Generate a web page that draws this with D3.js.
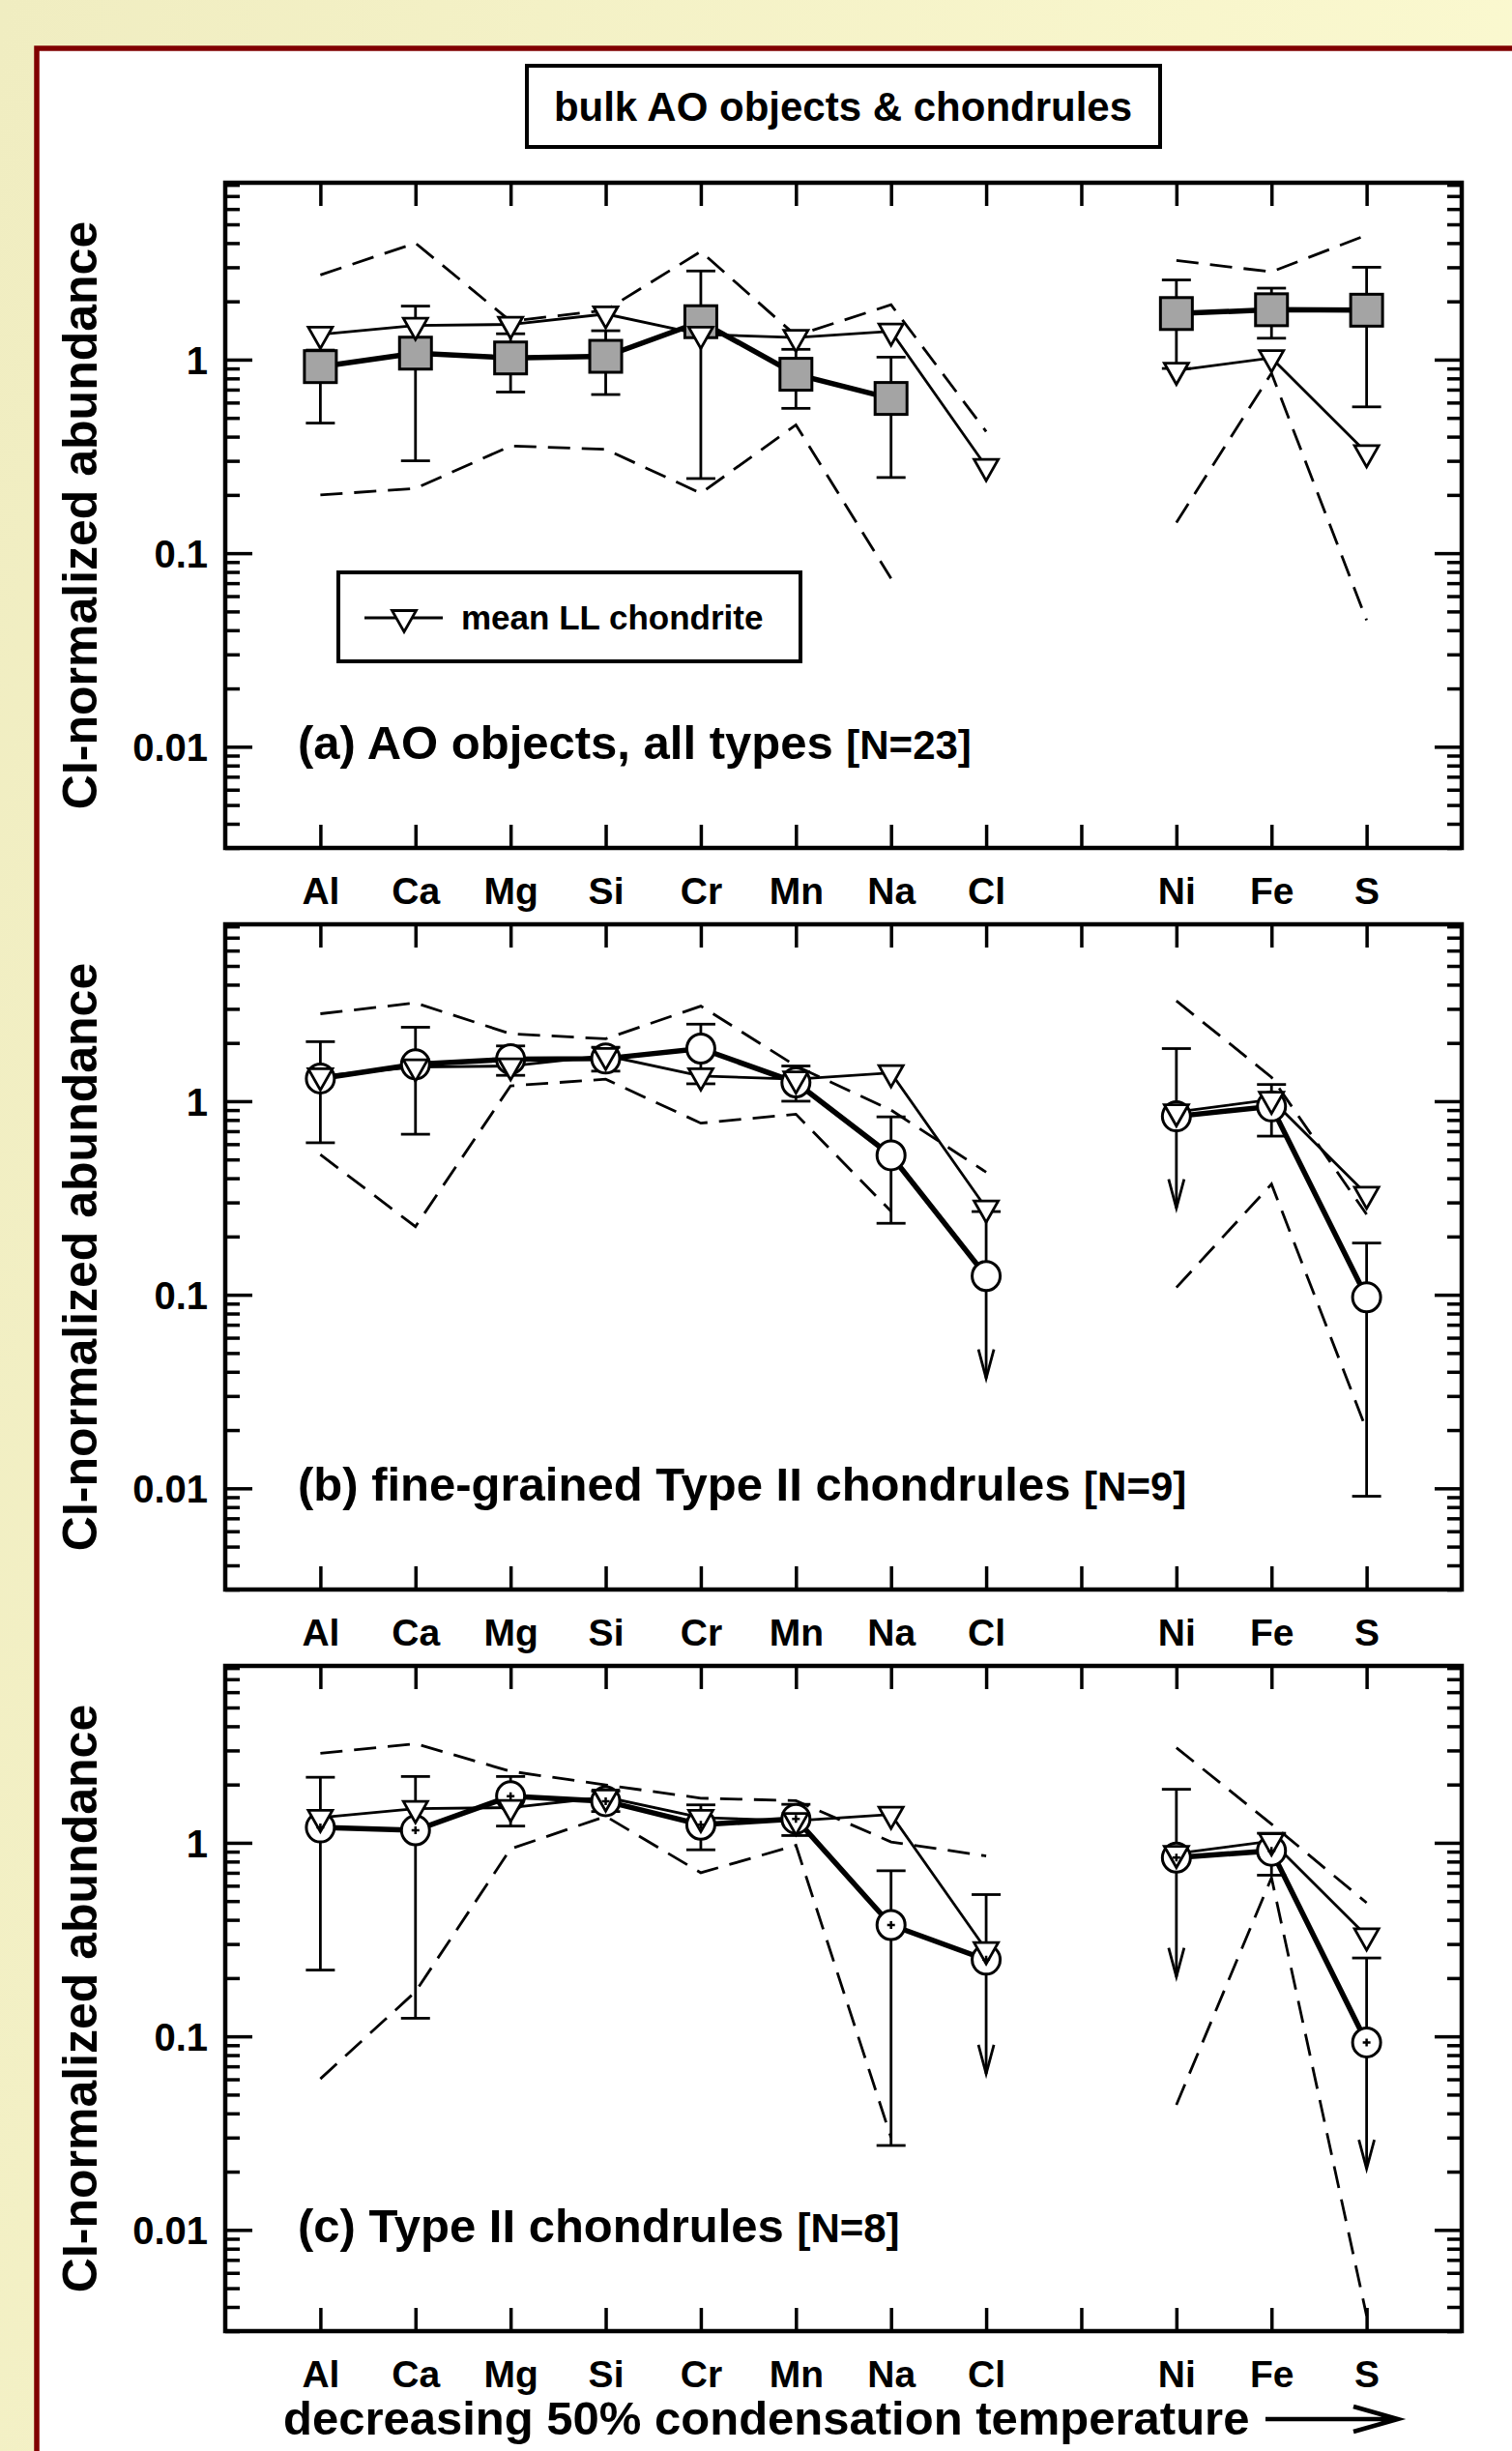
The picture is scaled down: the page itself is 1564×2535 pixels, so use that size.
<!DOCTYPE html>
<html>
<head>
<meta charset="utf-8">
<script src="https://cdn.jsdelivr.net/npm/d3@7"></script>
<style>
  body { margin: 0; background: #f5f2c8; }
  svg text { font-family: "Liberation Sans", Arial, Helvetica, sans-serif; font-weight: bold; fill: #000; }
</style>
</head>
<body>
<svg id="chart"></svg>
<script>
// elements in order of decreasing condensation temperature (blank slot splits the groups)
const elements = ["Al", "Ca", "Mg", "Si", "Cr", "Mn", "Na", "Cl", "", "Ni", "Fe", "S"];

// mean LL chondrite, same reference curve in every panel
const llMean = [1.35, 1.5, 1.52, 1.72, 1.35, 1.3, 1.4, 0.28, null, 0.88, 1.02, 0.33];

// (a) AO objects, all types
const aoMean = [0.92, 1.08, 1.02, 1.04, 1.57, 0.84, 0.63, null, null, 1.73, 1.81, 1.80];
const aoHi   = [1.12, 1.89, 1.36, 1.41, 2.87, 1.13, 1.03, null, null, 2.58, 2.34, 3.0];
const aoLo   = [0.47, 0.30, 0.68, 0.66, 0.243, 0.56, 0.246, null, null, 0.90, 1.29, 0.57];
const aoMax  = [2.74, 4.0, 1.58, 1.80, 3.62, 1.33, 1.92, 0.425, null, 3.25, 2.84, 4.4];
const aoMin  = [0.20, 0.216, 0.358, 0.344, 0.204, 0.46, 0.074, null, null, 0.144, 0.85, 0.045];
const aoLimits = [];

// (b) fine-grained Type II chondrules
const fgMean = [1.31, 1.55, 1.65, 1.66, 1.87, 1.25, 0.525, 0.125, null, 0.835, 0.94, 0.097];
const fgHi   = [2.03, 2.41, 1.93, 1.9, 2.5, 1.52, 0.83, 0.269, null, 1.87, 1.22, 0.185];
const fgLo   = [0.61, 0.675, 1.36, 1.43, 1.23, 1.0, 0.234, 0.037, null, 0.28, 0.66, 0.0091];
const fgMax  = [2.83, 3.22, 2.23, 2.1, 3.1, 1.52, 0.9, 0.43, null, 3.3, 1.33, 0.26];
const fgMin  = [0.53, 0.225, 1.2, 1.3, 0.77, 0.857, 0.27, null, null, 0.109, 0.373, 0.02];
const fgLimits = [7, 9];

// (c) Type II chondrules
const t2Mean = [1.20, 1.16, 1.74, 1.64, 1.24, 1.33, 0.376, 0.249, null, 0.838, 0.91, 0.093];
const t2Hi   = [2.18, 2.2, 2.2, 1.85, 1.57, 1.58, 0.717, 0.54, null, 1.89, 1.12, 0.254];
const t2Lo   = [0.22, 0.124, 1.22, 1.45, 0.92, 1.09, 0.0273, 0.064, null, 0.203, 0.68, 0.0207];
const t2Max  = [2.9, 3.25, 2.34, 1.99, 1.7, 1.65, 1.01, 0.855, null, 3.1, 1.25, 0.49];
const t2Min  = [0.0603, 0.17, 0.93, 1.37, 0.70, 0.97, 0.030, null, null, 0.0443, 0.66, 0.0036];
const t2Limits = [7, 9, 11];

const yMajor = [0.01, 0.1, 1];
const yMajorLabels = ["0.01", "0.1", "1"];

const W = 1564, H = 2535;

class AbundancePanel {

    constructor(_config) {
        this.config = {
            parentElement: _config.parentElement,
            top: _config.top,
            height: 688,
            left: 233,
            right: 1512,
            label: _config.label,
            labelN: _config.labelN,
            marker: _config.marker,
            legend: _config.legend || false
        };
        this.mean = _config.mean;
        this.hi = _config.hi;
        this.lo = _config.lo;
        this.max = _config.max;
        this.min = _config.min;
        this.limits = _config.limits;

        this.initVis();
    }

    initVis() {
        let vis = this;
        let c = vis.config;

        vis.bottom = c.top + c.height;

        vis.chart = c.parentElement.append("g");

        // scales
        vis.xScale = d3.scalePoint()
            .domain(d3.range(elements.length))
            .range([c.left, c.right])
            .padding(1);

        vis.yScale = d3.scaleLog()
            .domain([0.003, 8.2])
            .range([vis.bottom, c.top]);

        // minor ticks 2..9 of every decade inside the domain
        vis.yMinor = [];
        [0.001, 0.01, 0.1, 1].forEach(dec => {
            for (let k = 2; k <= 9; k++) {
                let v = dec * k;
                if (v >= 0.003 && v <= 8.2) vis.yMinor.push(v);
            }
        });

        vis.line = d3.line()
            .defined(d => d.v != null)
            .x(d => vis.xScale(d.i))
            .y(d => vis.yScale(d.v));

        vis.updateVis();
    }

    updateVis() {
        let vis = this;
        let pack = arr => arr.map((v, i) => ({ i: i, v: v }));

        vis.meanData = pack(vis.mean);
        vis.llData = pack(llMean);
        vis.maxData = pack(vis.max);
        vis.minData = pack(vis.min);
        vis.errData = vis.mean.map((v, i) => ({ i: i, hi: vis.hi[i], lo: vis.lo[i], limit: vis.limits.includes(i) }))
            .filter(d => d.hi != null);

        vis.renderVis();
    }

    renderVis() {
        let vis = this;
        let c = vis.config;
        let x = vis.xScale, y = vis.yScale;

        // range envelopes (dashed)
        [vis.maxData, vis.minData].forEach(dd => {
            vis.chart.append("path")
                .datum(dd)
                .attr("fill", "none")
                .attr("stroke", "#000")
                .attr("stroke-width", 2.8)
                .attr("stroke-dasharray", "23,12")
                .attr("d", vis.line);
        });

        // mean LL chondrite line
        vis.chart.append("path")
            .datum(vis.llData)
            .attr("fill", "none")
            .attr("stroke", "#000")
            .attr("stroke-width", 2.8)
            .attr("d", vis.line);

        // error bars
        let eb = vis.chart.selectAll(".err")
            .data(vis.errData)
            .enter()
            .append("g")
                .attr("class", "err")
                .attr("stroke", "#000")
                .attr("stroke-width", 2.8)
                .attr("fill", "none");
        eb.append("line")
            .attr("x1", d => x(d.i)).attr("x2", d => x(d.i))
            .attr("y1", d => y(d.hi)).attr("y2", d => y(d.lo));
        eb.append("line")
            .attr("x1", d => x(d.i) - 15).attr("x2", d => x(d.i) + 15)
            .attr("y1", d => y(d.hi)).attr("y2", d => y(d.hi));
        eb.filter(d => !d.limit).append("line")
            .attr("x1", d => x(d.i) - 15).attr("x2", d => x(d.i) + 15)
            .attr("y1", d => y(d.lo)).attr("y2", d => y(d.lo));
        eb.filter(d => d.limit).append("path")
            .attr("d", d => `M${x(d.i) - 8},${y(d.lo) - 30}L${x(d.i)},${y(d.lo)}L${x(d.i) + 8},${y(d.lo) - 30}`);

        // sample mean line (thick)
        vis.chart.append("path")
            .datum(vis.meanData)
            .attr("fill", "none")
            .attr("stroke", "#000")
            .attr("stroke-width", 5.5)
            .attr("d", vis.line);

        // sample mean markers
        let pts = vis.meanData.filter(d => d.v != null);
        if (c.marker === "square") {
            vis.chart.selectAll(".sq")
                .data(pts)
                .enter()
                .append("rect")
                    .attr("class", "sq")
                    .attr("x", d => x(d.i) - 16.5)
                    .attr("y", d => y(d.v) - 16.5)
                    .attr("width", 33)
                    .attr("height", 33)
                    .attr("fill", "#a4a4a4")
                    .attr("stroke", "#000")
                    .attr("stroke-width", 3);
        } else {
            vis.chart.selectAll(".ci")
                .data(pts)
                .enter()
                .append("ellipse")
                    .attr("class", "ci")
                    .attr("cx", d => x(d.i))
                    .attr("cy", d => y(d.v))
                    .attr("rx", 14.5)
                    .attr("ry", 15)
                    .attr("fill", "#fff")
                    .attr("stroke", "#000")
                    .attr("stroke-width", 3);
        }

        // LL triangles on top
        let tri = (cx, cy) => `M${cx - 12.5},${cy - 7.5}L${cx + 12.5},${cy - 7.5}L${cx},${cy + 14.5}Z`;
        vis.chart.selectAll(".tri")
            .data(vis.llData.filter(d => d.v != null))
            .enter()
            .append("path")
                .attr("class", "tri")
                .attr("d", d => tri(x(d.i), y(d.v)))
                .attr("fill", "#fff")
                .attr("stroke", "#000")
                .attr("stroke-width", 2.8);

        // small cross inside the circles of panel (c)
        if (c.marker === "circlePlus") {
            vis.chart.selectAll(".plus")
                .data(pts)
                .enter()
                .append("path")
                    .attr("class", "plus")
                    .attr("d", d => `M${x(d.i) - 4},${y(d.v)}h8M${x(d.i)},${y(d.v) - 4}v8`)
                    .attr("stroke", "#000")
                    .attr("stroke-width", 2.5);
        }

        // axes: inward ticks on all four sides
        let tickStyle = g => {
            g.select(".domain").remove();
            g.selectAll(".tick line").attr("stroke", "#000").attr("stroke-width", 3.5);
        };
        vis.chart.append("g")
            .attr("transform", `translate(${c.left},0)`)
            .call(d3.axisRight(y).tickValues(yMajor).tickSize(28).tickFormat(""))
            .call(tickStyle);
        vis.chart.append("g")
            .attr("transform", `translate(${c.left},0)`)
            .call(d3.axisRight(y).tickValues(vis.yMinor).tickSize(15).tickFormat(""))
            .call(tickStyle);
        vis.chart.append("g")
            .attr("transform", `translate(${c.right},0)`)
            .call(d3.axisLeft(y).tickValues(yMajor).tickSize(28).tickFormat(""))
            .call(tickStyle);
        vis.chart.append("g")
            .attr("transform", `translate(${c.right},0)`)
            .call(d3.axisLeft(y).tickValues(vis.yMinor).tickSize(15).tickFormat(""))
            .call(tickStyle);
        vis.chart.append("g")
            .attr("transform", `translate(0,${c.top})`)
            .call(d3.axisBottom(x).tickSize(24).tickFormat(""))
            .call(tickStyle);
        vis.chart.append("g")
            .attr("transform", `translate(0,${vis.bottom})`)
            .call(d3.axisTop(x).tickSize(24).tickFormat(""))
            .call(tickStyle);

        // y tick labels
        let yl = vis.chart.append("g")
            .attr("transform", `translate(${c.left},0)`)
            .call(d3.axisLeft(y).tickValues(yMajor).tickSize(0).tickPadding(18)
                .tickFormat((d, i) => yMajorLabels[i]));
        yl.select(".domain").remove();
        yl.selectAll("text")
            .attr("font-size", 40)
            .attr("font-family", null)
            .attr("dy", "0.36em");

        // element labels under the frame
        let xl = vis.chart.append("g")
            .attr("transform", `translate(0,${vis.bottom})`)
            .call(d3.axisBottom(x).tickSize(0).tickFormat(i => elements[i]));
        xl.select(".domain").remove();
        xl.selectAll("text")
            .attr("font-size", 39)
            .attr("font-family", null)
            .attr("y", 58)
            .attr("dy", 0);

        // frame
        vis.chart.append("rect")
            .attr("x", c.left)
            .attr("y", c.top)
            .attr("width", c.right - c.left)
            .attr("height", c.height)
            .attr("fill", "none")
            .attr("stroke", "#000")
            .attr("stroke-width", 4.5);

        // y axis title
        vis.chart.append("text")
            .attr("transform", `translate(100,${c.top + c.height / 2}) rotate(-90)`)
            .attr("text-anchor", "middle")
            .attr("font-size", 50)
            .text("CI-normalized abundance");

        // panel label
        let pl = vis.chart.append("text")
            .attr("x", 308)
            .attr("y", y(0.01) + 13)
            .attr("font-size", 49)
            .text(c.label + " ");
        pl.append("tspan")
            .attr("font-size", 42)
            .text(c.labelN);

        // legend (panel a only)
        if (c.legend) {
            let lg = vis.chart.append("g");
            lg.append("rect")
                .attr("x", 350).attr("y", 592)
                .attr("width", 478).attr("height", 92)
                .attr("fill", "#fff")
                .attr("stroke", "#000")
                .attr("stroke-width", 4);
            lg.append("line")
                .attr("x1", 377).attr("x2", 458)
                .attr("y1", 639).attr("y2", 639)
                .attr("stroke", "#000")
                .attr("stroke-width", 2.8);
            lg.append("path")
                .attr("d", tri(418, 639))
                .attr("fill", "#fff")
                .attr("stroke", "#000")
                .attr("stroke-width", 2.8);
            lg.append("text")
                .attr("x", 477)
                .attr("y", 651)
                .attr("font-size", 35)
                .text("mean LL chondrite");
        }
    }
}

// page setup
const svg = d3.select("#chart")
    .attr("width", W)
    .attr("height", H);

const grad = svg.append("defs").append("linearGradient")
    .attr("id", "bg")
    .attr("x1", "0%").attr("y1", "0%")
    .attr("x2", "100%").attr("y2", "30%");
grad.append("stop").attr("offset", "0%").attr("stop-color", "#f0edc1");
grad.append("stop").attr("offset", "100%").attr("stop-color", "#fbf9d0");

svg.append("rect")
    .attr("width", W).attr("height", H)
    .attr("fill", "url(#bg)");

svg.append("rect")
    .attr("x", 38).attr("y", 50)
    .attr("width", W).attr("height", H)
    .attr("fill", "#fff")
    .attr("stroke", "#800000")
    .attr("stroke-width", 5.5);

// header box
svg.append("rect")
    .attr("x", 545).attr("y", 68)
    .attr("width", 655).attr("height", 84)
    .attr("fill", "#fff")
    .attr("stroke", "#000")
    .attr("stroke-width", 4);
svg.append("text")
    .attr("x", 872).attr("y", 125)
    .attr("text-anchor", "middle")
    .attr("font-size", 42)
    .text("bulk AO objects & chondrules");

new AbundancePanel({
    parentElement: svg, top: 189,
    label: "(a) AO objects, all types", labelN: "[N=23]",
    marker: "square", legend: true,
    mean: aoMean, hi: aoHi, lo: aoLo, max: aoMax, min: aoMin, limits: aoLimits
});
new AbundancePanel({
    parentElement: svg, top: 956,
    label: "(b) fine-grained Type II chondrules", labelN: "[N=9]",
    marker: "circle",
    mean: fgMean, hi: fgHi, lo: fgLo, max: fgMax, min: fgMin, limits: fgLimits
});
new AbundancePanel({
    parentElement: svg, top: 1723,
    label: "(c) Type II chondrules", labelN: "[N=8]",
    marker: "circlePlus",
    mean: t2Mean, hi: t2Hi, lo: t2Lo, max: t2Max, min: t2Min, limits: t2Limits
});

// bottom axis title with arrow
svg.append("text")
    .attr("x", 293).attr("y", 2518)
    .attr("font-size", 49)
    .text("decreasing 50% condensation temperature");
svg.append("path")
    .attr("d", "M1309,2502H1444M1400,2489L1446,2502L1400,2515")
    .attr("fill", "none")
    .attr("stroke", "#000")
    .attr("stroke-width", 4.5);
</script>
</body>
</html>
